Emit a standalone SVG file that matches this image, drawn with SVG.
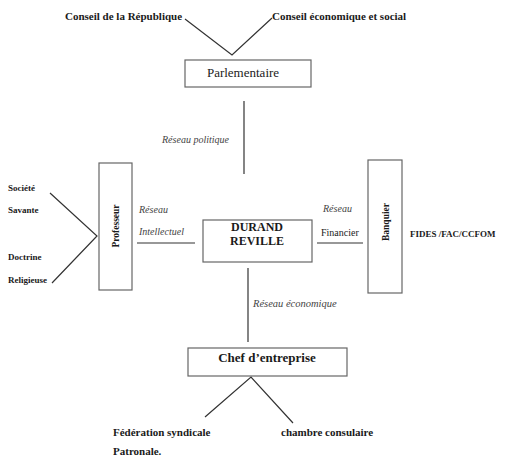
<svg xmlns="http://www.w3.org/2000/svg" width="505" height="458" viewBox="0 0 505 458">
<style>
text{font-family:'Liberation Serif','Times New Roman',Tinos,'DejaVu Serif',serif}
.b{font-weight:bold;fill:#1a1a1a}
.r{fill:#222}
.i{font-style:italic;fill:#444}
.box{fill:#fff;stroke:#666;stroke-width:1.2}
.ln{fill:none;stroke:#333;stroke-width:1.2}
</style>
<rect width="505" height="458" fill="#fff"/>
<g id="connectors">
<polyline class="ln" points="185,19 232,55 272,18"/>
<line class="ln" x1="244" y1="101" x2="244" y2="174"/>
<polyline class="ln" points="50,193 97,236 52,283"/>
<line class="ln" x1="137" y1="243" x2="195" y2="243"/>
<line class="ln" x1="317" y1="243" x2="363" y2="243"/>
<line class="ln" x1="248" y1="268" x2="248" y2="342"/>
<polyline class="ln" points="205,417 251,377 293,423"/>
</g>
<g id="labels">
<text class="b" x="65" y="20" font-size="11">Conseil de la République</text>
<text class="b" x="272" y="20" font-size="11">Conseil économique et social</text>
<text class="i" x="162" y="143" font-size="10">Réseau politique</text>
<text class="b" x="8" y="191" font-size="9">Société</text>
<text class="b" x="8" y="213" font-size="9">Savante</text>
<text class="b" x="8" y="260" font-size="9">Doctrine</text>
<text class="b" x="8" y="283" font-size="9">Religieuse</text>
<text class="i" x="139" y="213" font-size="10">Réseau</text>
<text class="i" x="139" y="235" font-size="10">Intellectuel</text>
<text class="i" x="323" y="212" font-size="10">Réseau</text>
<text class="r" x="321" y="236" font-size="10">Financier</text>
<text class="b" x="410" y="237" font-size="9">FIDES /FAC/CCFOM</text>
<text class="i" x="253" y="307" font-size="10.5">Réseau économique</text>
<text class="b" x="113" y="436" font-size="11">Fédération syndicale</text>
<text class="b" x="113" y="455" font-size="11">Patronale.</text>
<text class="b" x="281" y="436" font-size="11">chambre consulaire</text>
</g>
<g id="parlementaire">
<rect class="box" x="185" y="60" width="126" height="27"/>
<text class="r" x="243" y="77" font-size="13" text-anchor="middle">Parlementaire</text>
</g>
<g id="professeur">
<rect class="box" x="99" y="163" width="33" height="127"/>
<text class="b" x="0" y="0" font-size="9.5" text-anchor="middle" transform="translate(119,226) rotate(-90)">Professeur</text>
</g>
<g id="durand">
<rect class="box" x="203" y="220" width="109" height="42"/>
<text class="b" x="257" y="231" font-size="12" text-anchor="middle">DURAND</text>
<text class="b" x="257" y="245" font-size="12" text-anchor="middle">REVILLE</text>
</g>
<g id="banquier">
<rect class="box" x="368" y="160" width="34" height="133"/>
<text class="b" x="0" y="0" font-size="9.5" text-anchor="middle" transform="translate(389,222) rotate(-90)">Banquier</text>
</g>
<g id="chef">
<rect class="box" x="188" y="348" width="159" height="28"/>
<text class="b" x="267" y="362" font-size="13" text-anchor="middle">Chef d’entreprise</text>
</g>
</svg>
